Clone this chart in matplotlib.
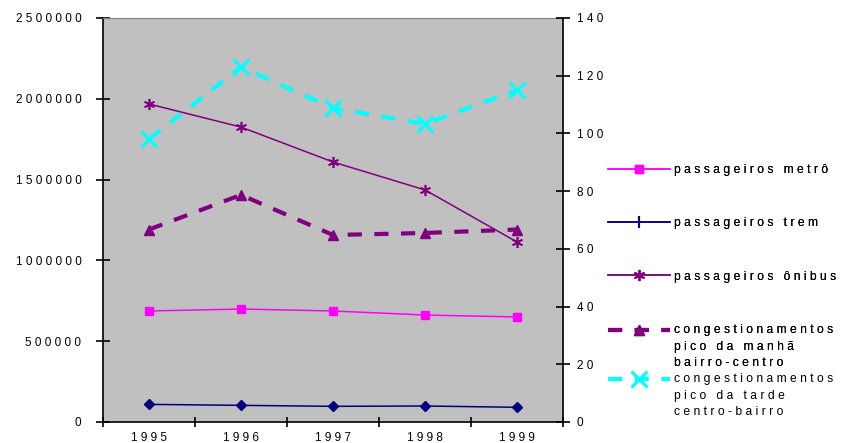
import matplotlib
matplotlib.use("Agg")
from matplotlib import pyplot as plt
from matplotlib import transforms
from matplotlib.lines import Line2D
from matplotlib.legend_handler import HandlerLine2D
import numpy as np

plt.rcParams['font.family'] = ['Liberation Sans', 'DejaVu Sans']
plt.rcParams['font.size'] = 8.5

# Data
years = ["1995", "1996", "1997", "1998", "1999"]
metro = [687000, 699000, 687000, 662000, 650000]
trem = [109000, 103000, 97000, 99000, 91000]
onibus = [1968000, 1825000, 1609000, 1436000, 1114000]
manha = [66.7, 78.7, 64.8, 65.5, 66.7]
tarde = [98.0, 123.0, 108.8, 103.3, 115.0]
left_ticks = [0, 500000, 1000000, 1500000, 2000000, 2500000]
right_ticks = [0, 20, 40, 60, 80, 100, 120, 140]
names = ["passageiros metrô", "passageiros trem", "passageiros ônibus",
         "congestionamentos\npico da manhã\nbairro-centro",
         "congestionamentos\npico da tarde\ncentro-bairro"]


def sp(s):
    # letter-spaced look of the original
    return "\n".join(" ".join(line) for line in s.split("\n"))


class FirstLineHandler(HandlerLine2D):
    # put the legend key next to the first line of a multi-line label
    def __init__(self, shift, **kw):
        super().__init__(**kw)
        self.shift = shift

    def create_artists(self, legend, orig_handle, xdescent, ydescent,
                       width, height, fontsize, trans):
        trans = transforms.Affine2D().translate(0, self.shift) + trans
        return super().create_artists(legend, orig_handle, xdescent, ydescent,
                                      width, height, fontsize, trans)


x = np.arange(len(years))
purple = '#800080'
navy = '#000080'
magenta = '#FF00FF'
cyan = '#00FFFF'

fig = plt.figure(figsize=(8.45, 4.43), dpi=100)
ax = fig.add_axes([103 / 845, 21 / 443, 460 / 845, 404 / 443])
ax.set_facecolor('#C0C0C0')
ax2 = ax.twinx()

st_metro = dict(color=magenta, lw=1.1, marker='s', ms=6)
st_trem = dict(color=navy, lw=1.1, marker='D', ms=5)
st_onibus = dict(color=purple, lw=1.1, marker=(6, 2, 0), ms=8, mew=1.2)
st_manha = dict(color=purple, lw=3, dashes=(3.4, 3.0), marker='^', ms=7)
st_tarde = dict(color=cyan, lw=3, dashes=(3.4, 3.0), marker='x', ms=12, mew=2.3)

ax.plot(x, metro, **st_metro)
ax.plot(x, trem, **st_trem)
ax.plot(x, onibus, **st_onibus)
ax2.plot(x, manha, **st_manha)
ax2.plot(x, tarde, **st_tarde)

ax.set_xlim(-0.5, len(years) - 0.5)
ax.set_ylim(0, 2500000)
ax2.set_ylim(0, 140)

ax.set_xticks(np.arange(-0.5, len(years), 1), labels=[])
ax.set_xticks(x, labels=[sp(y) for y in years], minor=True)
ax.tick_params(axis='x', which='major', direction='inout', length=7, width=1.2)
ax.tick_params(axis='x', which='minor', length=0, pad=7)
ax.set_yticks(left_ticks, labels=[sp(str(v)) for v in left_ticks])
ax.tick_params(axis='y', direction='inout', length=10, width=1.2, pad=10.5)
ax2.set_yticks(right_ticks, labels=[sp(str(v)) for v in right_ticks])
ax2.tick_params(axis='y', direction='inout', length=10, width=1.2, pad=5)

ax.spines['left'].set_linewidth(1.2)
ax.spines['bottom'].set_linewidth(1.2)
ax.spines['top'].set_color('#808080')
ax.spines['right'].set_visible(False)
for s in ['top', 'left', 'bottom']:
    ax2.spines[s].set_visible(False)
ax2.spines['right'].set_linewidth(1.2)

# legend
hnd = [Line2D([], [], **st_metro),
       Line2D([], [], color=navy, lw=1.1, marker='|', ms=8, mew=1.5),
       Line2D([], [], **st_onibus),
       Line2D([], [], **st_manha),
       Line2D([], [], **st_tarde)]
shift = 12.2
leg_kw = dict(loc='upper left', frameon=False, borderpad=0, borderaxespad=0,
              handlelength=5.1, handletextpad=0.3, numpoints=1, fontsize=8.75)
leg1 = fig.legend(hnd[:4], [sp(n) for n in names[:4]],
                  bbox_to_anchor=(608 / 845, 1 - 164 / 443), labelspacing=3.4,
                  handler_map={hnd[3]: FirstLineHandler(shift)}, **leg_kw)
leg2 = fig.legend(hnd[4:], [sp(n) for n in names[4:]],
                  bbox_to_anchor=(608 / 845, 1 - 373 / 443),
                  handler_map={hnd[4]: FirstLineHandler(shift)}, **leg_kw)
fig.add_artist(leg1)
for lg in (leg1, leg2):
    for t in lg.get_texts():
        t.set_linespacing(1.52)

fig.savefig("out.png", dpi=100)
